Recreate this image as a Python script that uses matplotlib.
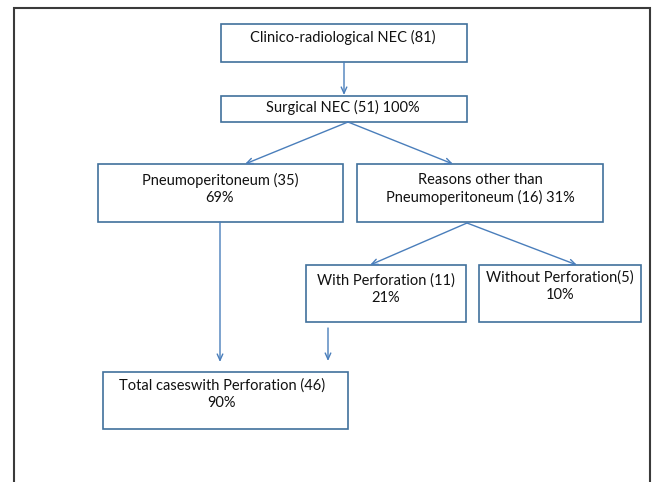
import matplotlib
matplotlib.use("Agg")
import matplotlib.pyplot as plt
from matplotlib.patches import Rectangle

# flowchart content
labels = ["Clinico-radiological NEC (81)",
          "Surgical NEC (51) 100%",
          "Pneumoperitoneum (35)\n69%",
          "Reasons other than\nPneumoperitoneum (16) 31%",
          "With Perforation (11)\n21%",
          "Without Perforation(5)\n10%",
          "Total caseswith Perforation (46)\n90%"]
# box extents in pixels: x0, y0, x1, y1
boxes = [(221, 24, 467, 62),
         (221, 96, 467, 122),
         (98, 164, 343, 222),
         (357, 164, 603, 222),
         (306, 265, 466, 322),
         (479, 265, 641, 322),
         (103, 372, 348, 429)]
# text block centre per box
text_x = [343, 343, 220, 480, 386, 560, 222]
text_y = [37, 107, 189, 189, 289, 286, 394]
arrows = [((344, 62), (344, 95)),
          ((348, 122), (245, 164)),
          ((348, 122), (453, 164)),
          ((467, 223), (370, 265)),
          ((467, 223), (577, 265)),
          ((220, 222), (220, 362)),
          ((328, 328), (328, 361))]

W, H = 654, 482
fig = plt.figure(figsize=(W / 100, H / 100), dpi=100)
ax = fig.add_axes([0, 0, 1, 1])
ax.set_xlim(0, W)
ax.set_ylim(H, 0)
ax.axis("off")

# outer frame (open at the bottom)
ax.plot([14, 14, 650, 650], [H, 8, 8, H], color="#3a3a3a", lw=1.5,
        solid_joinstyle="miter")

edge = "#41719c"
for (x0, y0, x1, y1), lab, tx, ty in zip(boxes, labels, text_x, text_y):
    ax.add_patch(Rectangle((x0, y0), x1 - x0, y1 - y0, fill=False,
                           ec=edge, lw=1.2))
    ax.text(tx, ty, lab, ha="center", va="center", fontsize=10.5,
            family="Lato", linespacing=1.25, color="#111111")

for (p0, p1) in arrows:
    ax.annotate("", xy=p1, xytext=p0,
                arrowprops=dict(arrowstyle="->,head_length=0.45,head_width=0.2",
                                color="#4a7ebb", lw=1.0,
                                shrinkA=0, shrinkB=0))

fig.savefig("out.png", dpi=100)
